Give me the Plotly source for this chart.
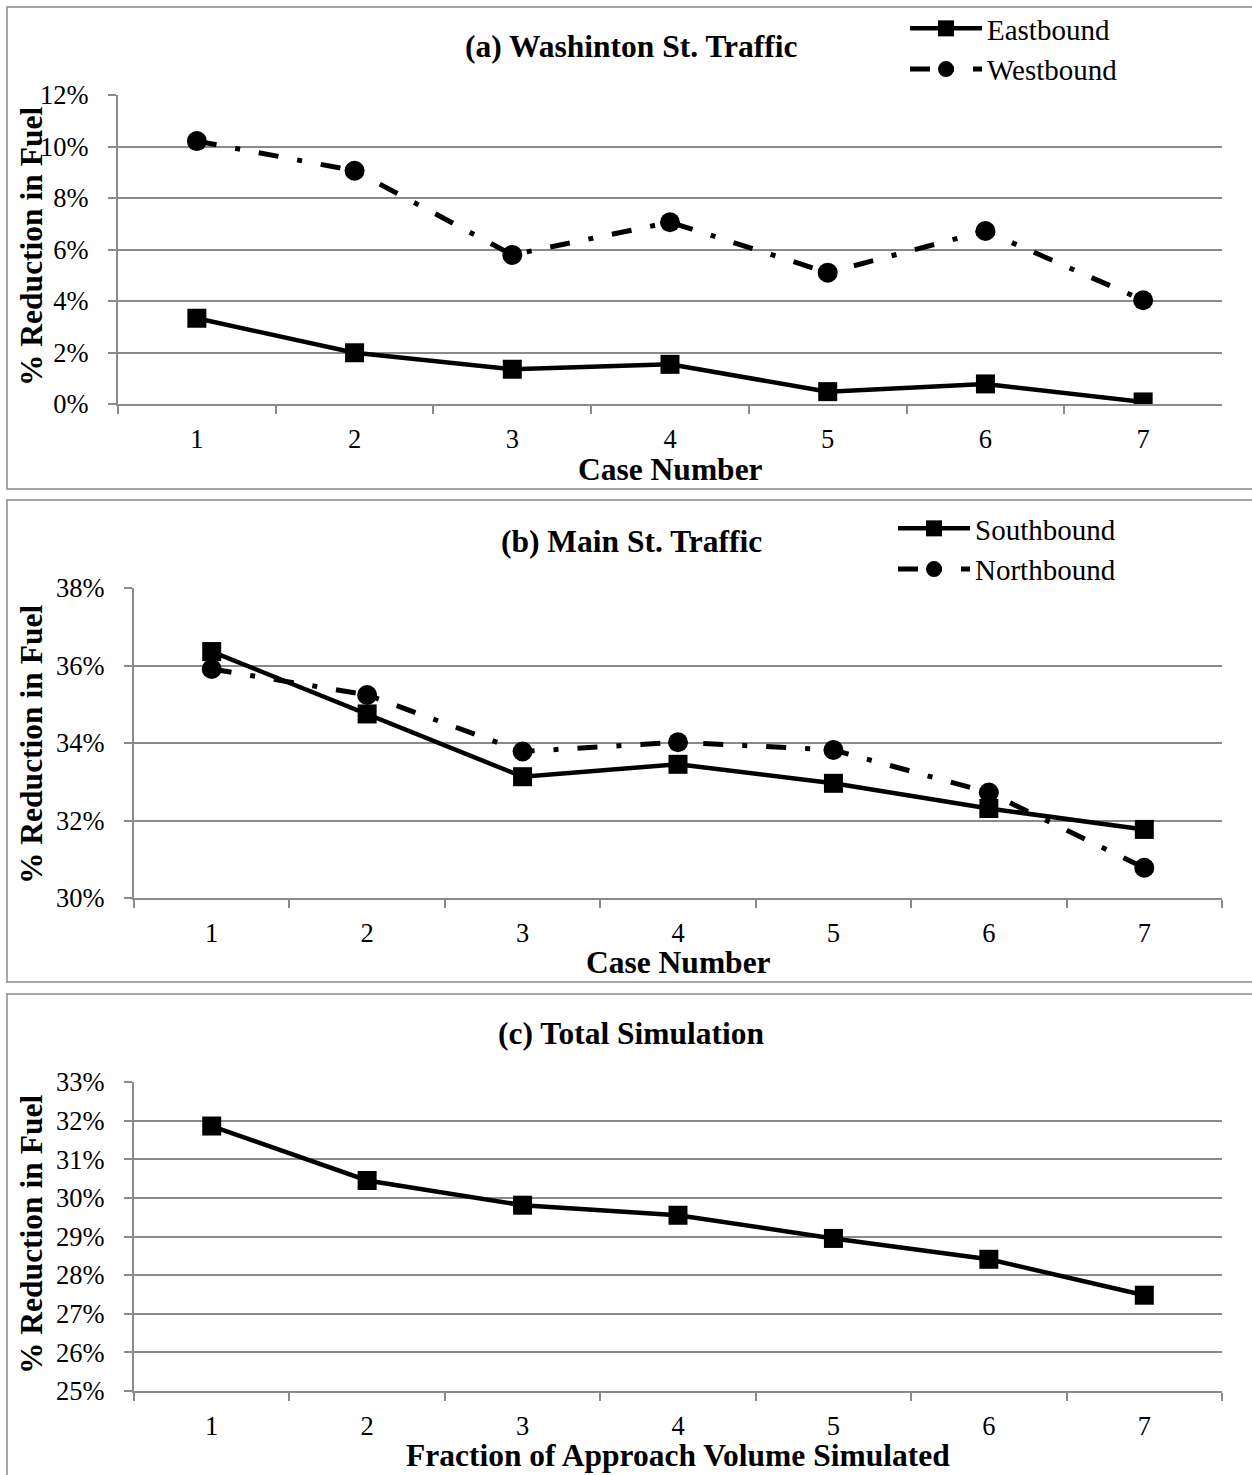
import plotly.graph_objects as go

# ---- data (percent reduction in fuel) ----
cases = ["1", "2", "3", "4", "5", "6", "7"]

eastbound = [3.33, 1.99, 1.35, 1.54, 0.48, 0.78, 0.08]
westbound = [10.21, 9.06, 5.79, 7.06, 5.10, 6.72, 4.03]

southbound = [36.36, 34.75, 33.13, 33.45, 32.96, 32.31, 31.77]
northbound = [35.91, 35.24, 33.78, 34.02, 33.82, 32.72, 30.78]

total_sim = [31.86, 30.45, 29.81, 29.55, 28.95, 28.41, 27.48]

W, H = 1252, 1475
SERIF = "Liberation Serif, Times New Roman, serif"
GRID = "#8a8a8a"
DASHDOT = "20px,19px,5px,19px"


def px(x):
    return x / W


def py(y):
    return 1 - y / H


fig = go.Figure()

solid = dict(color="black", width=4.5)
dashed = dict(color="black", width=5, dash=DASHDOT)
sq = dict(symbol="square", size=19, color="black")
circ = dict(symbol="circle", size=20, color="black")

fig.add_trace(go.Scatter(x=cases, y=eastbound, name="Eastbound", mode="lines+markers",
                         line=solid, marker=sq, xaxis="x", yaxis="y", legend="legend"))
fig.add_trace(go.Scatter(x=cases, y=westbound, name="Westbound", mode="lines+markers",
                         line=dashed, marker=circ, xaxis="x", yaxis="y", legend="legend"))
fig.add_trace(go.Scatter(x=cases, y=southbound, name="Southbound", mode="lines+markers",
                         line=solid, marker=sq, xaxis="x2", yaxis="y2", legend="legend2"))
fig.add_trace(go.Scatter(x=cases, y=northbound, name="Northbound", mode="lines+markers",
                         line=dashed, marker=circ, xaxis="x2", yaxis="y2", legend="legend2"))
fig.add_trace(go.Scatter(x=cases, y=total_sim, name="Total", mode="lines+markers",
                         line=solid, marker=sq, xaxis="x3", yaxis="y3", showlegend=False))


def xaxis(left, right):
    return dict(
        domain=[px(left), px(right)], type="category", tickson="boundaries",
        range=[-0.5, len(cases) - 0.5],
        ticks="outside", ticklen=8, tickwidth=2, tickcolor=GRID,
        showline=True, linecolor=GRID, linewidth=2, showgrid=False,
        tickfont=dict(family=SERIF, size=26.5, color="black"),
        ticklabelstandoff=10, zeroline=False, fixedrange=True,
    )


def yaxis(anchor, top, bottom, lo, hi, step):
    return dict(
        domain=[py(bottom), py(top)], anchor=anchor, range=[lo, hi], dtick=step,
        tick0=lo, ticksuffix="%", ticks="outside", ticklen=8, tickwidth=2,
        tickcolor=GRID, showline=True, linecolor=GRID, linewidth=2,
        showgrid=True, gridcolor=GRID, gridwidth=2, zeroline=False,
        tickfont=dict(family=SERIF, size=26.5, color="black"),
        ticklabelstandoff=14, fixedrange=True,
    )


legend_style = dict(
    font=dict(family=SERIF, size=29, color="black"), bgcolor="rgba(0,0,0,0)",
    xanchor="left", yanchor="top", itemwidth=72, tracegroupgap=0,
    itemclick=False, itemdoubleclick=False,
)

fig.update_layout(
    width=W, height=H,
    margin=dict(l=0, r=0, t=0, b=0, autoexpand=False),
    paper_bgcolor="white", plot_bgcolor="white",
    xaxis=dict(**xaxis(118, 1222), anchor="y"),
    yaxis=yaxis("x", 95, 404, 0, 12, 2),
    xaxis2=dict(**xaxis(134, 1222), anchor="y2"),
    yaxis2=yaxis("x2", 588, 898, 30, 38, 2),
    xaxis3=dict(**xaxis(134, 1222), anchor="y3"),
    yaxis3=yaxis("x3", 1082, 1391, 25, 33, 1),
    legend=dict(**legend_style, x=px(905), y=py(3)),
    legend2=dict(**legend_style, x=px(893), y=py(503)),
)

# panel frames
for top, bottom in [(7, 489), (500, 982), (994, 1490)]:
    fig.add_shape(type="rect", xref="paper", yref="paper",
                  x0=px(7), x1=px(1262), y0=py(bottom), y1=py(top),
                  line=dict(color=GRID, width=1.5), layer="below")


def label(text, x, y, angle=0, size=31.5):
    fig.add_annotation(text=f"<b>{text}</b>", xref="paper", yref="paper",
                       x=px(x), y=py(y), xanchor="center", yanchor="middle",
                       showarrow=False, textangle=angle,
                       font=dict(family=SERIF, size=size, color="black"))


# panel titles
label("(a) Washinton St. Traffic", 631, 47)
label("(b) Main St. Traffic", 631, 541)
label("(c) Total Simulation", 631, 1033)

# x-axis titles
label("Case Number", 670, 469)
label("Case Number", 678, 962)
label("Fraction of Approach Volume Simulated", 678, 1455)

# y-axis titles
label("% Reduction in Fuel", 31, 247, angle=-90)
label("% Reduction in Fuel", 31, 745, angle=-90)
label("% Reduction in Fuel", 31, 1235, angle=-90)

fig.write_html("out.html")
